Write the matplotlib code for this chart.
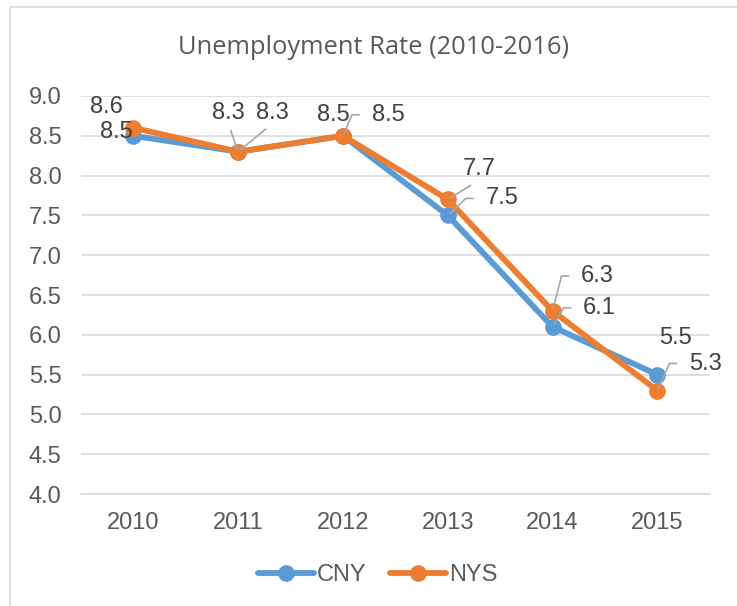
import math
import matplotlib.pyplot as plt
from matplotlib.patches import Rectangle

# data
years = ["2010", "2011", "2012", "2013", "2014", "2015"]
cny = [8.5, 8.3, 8.5, 7.5, 6.1, 5.5]
nys = [8.6, 8.3, 8.5, 7.7, 6.3, 5.3]

# label offsets in pixels (dx, dy) and leader type:
# "" none, "s" straight from the label bottom, "a" elbow from the label left
cny_offsets = [(-17, 4), (-10, 39), (-10, 21), (54, 17), (47, 19), (18, 37)]
cny_leader = ["", "s", "", "a", "a", ""]
nys_offsets = [(-27, 21), (34, 39), (45, 21), (31, 30), (45, 35), (48, 27)]
nys_leader = ["", "s", "a", "s", "a", "a"]

blue = "#5B9BD5"
orange = "#ED7D31"
grid_c = "#D9D9D9"
lbl_c = "#404040"
tick_c = "#595959"
lead_c = "#A6A6A6"

plt.rcParams["font.family"] = ["Liberation Sans", "DejaVu Sans"]

fig = plt.figure(figsize=(7.37, 6.06), dpi=100)
ax = fig.add_axes([0.110, 0.1848, 0.853, 0.6568])

x = range(len(years))
ax.plot(x, cny, color=blue, lw=4.2, marker="o", ms=11, label="CNY",
        solid_capstyle="round", zorder=3)
ax.plot(x, nys, color=orange, lw=4.2, marker="o", ms=11, label="NYS",
        solid_capstyle="round", zorder=4)

ax.set_xlim(-0.5, len(years) - 0.5)
ax.set_ylim(4.0, 9.0)
ax.set_yticks([4.0 + 0.5 * i for i in range(11)])
ax.set_yticklabels(["%.1f" % (4.0 + 0.5 * i) for i in range(11)])
ax.set_xticks(list(x))
ax.set_xticklabels(years)
ax.tick_params(axis="both", length=0, labelsize=17, colors=tick_c)
ax.tick_params(axis="y", pad=14)
ax.tick_params(axis="x", pad=13)
ax.grid(axis="y", color=grid_c, lw=1.2)
ax.set_axisbelow(True)
for s in ["top", "right", "left"]:
    ax.spines[s].set_visible(False)
ax.spines["bottom"].set_color(grid_c)
ax.spines["bottom"].set_linewidth(1.2)


def add_labels(vals, offsets, leaders):
    for i, (v, off, lead) in enumerate(zip(vals, offsets, leaders)):
        props = None
        if lead == "s":
            props = dict(arrowstyle="-", color=lead_c, lw=1.2, shrinkA=3,
                         shrinkB=2, relpos=(0.5, 0))
        elif lead == "a":
            # elbow: short horizontal run left of the label, then to the point
            cx = off[0] - 16 - 20
            ang = math.degrees(math.atan2(off[1], cx))
            props = dict(arrowstyle="-", color=lead_c, lw=1.2, shrinkA=7,
                         shrinkB=2, relpos=(0, 0.5),
                         connectionstyle="angle,angleA=0,angleB=%.1f,rad=0" % ang)
        ax.annotate("%.1f" % v, (i, v), xytext=off, textcoords="offset pixels",
                    ha="center", va="center", fontsize=17, color=lbl_c,
                    arrowprops=props, zorder=5)


add_labels(cny, cny_offsets, cny_leader)
add_labels(nys, nys_offsets, nys_leader)

fig.text(0.507, 0.922, "Unemployment Rate (2010-2016)", ha="center",
         va="center", fontsize=18.4, color=tick_c, family="Open Sans")

fig.legend(loc="center", bbox_to_anchor=(0.512, 0.051), ncol=2, frameon=False,
           fontsize=17, handlelength=2.4, handletextpad=0.1,
           columnspacing=1.0, labelcolor=tick_c)

fig.add_artist(Rectangle((10 / 737, -0.02), 1.0, 1 - 7 / 606 + 0.02,
                         transform=fig.transFigure, fill=False,
                         edgecolor=grid_c, lw=1.2))

plt.savefig("out.png", dpi=100)
